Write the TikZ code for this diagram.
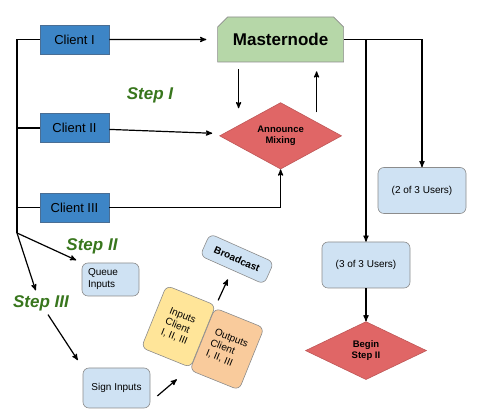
\documentclass[tikz,border=0pt]{standalone}
\usepackage{fontspec}
\setmainfont{Liberation Sans}
\usetikzlibrary{positioning,shapes.geometric,shapes.misc,arrows}
\definecolor{clientblue}{HTML}{3D85C6}
\definecolor{clientedge}{HTML}{4A6E94}
\definecolor{paleblue}{HTML}{CFE2F3}
\definecolor{boxedge}{HTML}{8C8C8C}
\definecolor{mixred}{HTML}{E06666}
\definecolor{mastergreen}{HTML}{B6D7A8}
\definecolor{stepgreen}{HTML}{38761D}
\definecolor{inyellow}{HTML}{FFE599}
\definecolor{outorange}{HTML}{F9CB9C}
\tikzstyle{mixing flow}=[
    ->,>=stealth',x=1pt,y=-1pt,line width=1.2pt,
    every node/.style={
        align=center,
    },
    client/.style={
        rectangle,fill=clientblue,draw=clientedge,line width=0.6pt,
        minimum width=69pt,minimum height=29pt,
        font=\fontsize{13}{15}\selectfont,
    },
    userbox/.style={
        rectangle,rounded corners=6pt,fill=paleblue,draw=boxedge,line width=0.6pt,
        minimum width=88pt,minimum height=46pt,font=\fontsize{10}{12}\selectfont,
    },
    decision/.style={
        diamond,inner sep=0pt,fill=mixred,draw=mixred!85!black,line width=0.6pt,
        minimum width=122pt,minimum height=57pt,
        font=\fontsize{9.5}{11.5}\selectfont\bfseries,
    },
    tilted/.style={
        rectangle,rounded corners=6pt,draw=boxedge,line width=0.6pt,
        minimum width=53pt,minimum height=67pt,rotate=-22,
        align=left,font=\fontsize{10}{11.5}\selectfont,
    },
    steplabel/.style={
        text=stepgreen,font=\fontsize{17}{20}\selectfont\bfseries\itshape,
    },
]
\newcommand{\twolines}[2]{#1\\#2}
\newcommand{\clientlabel}[2]{#1\\Client\\#2}

\begin{document}
\begin{tikzpicture}[mixing flow]
        \useasboundingbox (0,0) rectangle (480,419);

        \node[client] (client1) at (74.5,39.5) {Client I};
        \node[client, below=59pt of client1] (client2) {Client II};
        \node[client, below=50pt of client2] (client3) {Client III};
        \node[chamfered rectangle, chamfered rectangle corners={north west,north east},
            chamfered rectangle xsep=5pt, chamfered rectangle ysep=5pt,
            fill=mastergreen, draw=boxedge, line width=0.6pt,
            minimum width=126pt, minimum height=45pt,
            font=\fontsize{17}{20}\selectfont\bfseries,
            right=108pt of client1] (master) {Masternode};
        \node[decision, below=40pt of master] (announce) {\twolines{Announce}{Mixing}};
        \node[userbox] (twoof3) at (422,190.5) {(2 of 3 Users)};
        \node[userbox] (threeof3) at (366,265) {(3 of 3 Users)};
        \node[decision, minimum width=121pt, minimum height=58pt,
            below=33pt of threeof3] (begin) {\twolines{Begin}{Step II}};

        \node[steplabel] (step1) at (150,95) {Step I};
        \node[steplabel] (step2) at (92,246) {Step II};
        \node[steplabel] (step3) at (41,303) {Step III};

        \node[userbox, minimum width=57pt, minimum height=33pt, text width=45pt,
            align=left] (queue) at (110.5,279.5) {\twolines{Queue}{Inputs}};
        \node[userbox, minimum width=67pt, minimum height=40pt] (sign) at (116.5,388) {Sign Inputs};
        \node[tilted, fill=inyellow] (ins) at (178.5,326.5) {\clientlabel{Inputs}{I, II, III}};
        \node[tilted, fill=outorange] (outs) at (227,349) {\clientlabel{Outputs}{I, II, III}};
        \node[userbox, minimum width=70pt, minimum height=24pt, rotate=-24,
            font=\fontsize{10}{12}\selectfont\bfseries] (bcast) at (237,259) {Broadcast};

        \coordinate (fork) at (17,233);

        % clients hang off one trunk
        \draw[-] (client1.west) -| (fork);
        \draw[-] (client2.west) -- (client2.west -| fork);
        \draw[-] (client3.west) -- (client3.west -| fork);

        \path
            (client1) edge[shorten >=11pt] (master)
            (client2) edge[shorten >=11pt] (announce)
            ([xshift=-42pt]master.south) edge[shorten <=7pt, shorten >=-6pt]
                ([xshift=-42pt]master.south |- announce.north)
            ([xshift=36pt]master.south |- announce.north) edge[shorten <=-10pt, shorten >=9pt]
                ([xshift=36pt]master.south)
            (threeof3) edge (begin)
            (fork) edge[shorten >=6pt] (queue.north west)
            (fork) edge[shorten >=1pt] ([xshift=-5pt]step3.north)
            ([xshift=7pt]step3.south) edge[shorten >=9pt] (sign.north west)
            ([xshift=7pt,yshift=-8pt]sign.east) edge ([xshift=11pt,yshift=-21.5pt]ins.south)
            (outs.north west) edge[shorten <=8pt, shorten >=10pt] (bcast.south)
        ;
        \draw (client3.east) -| (announce.south);
        \draw (master.east) -| (twoof3.north);
        \draw (master.east -| threeof3.north) -- (threeof3.north);
    \end{tikzpicture}
\end{document}
